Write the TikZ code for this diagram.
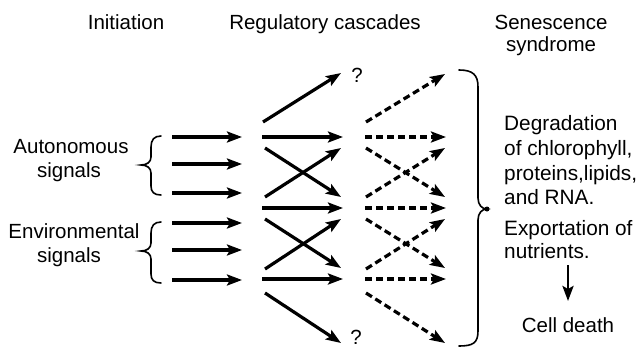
\documentclass[tikz,border=0pt]{standalone}
\usepackage{fontspec}
\setmainfont{Liberation Sans}
\usetikzlibrary{arrows.meta}
\tikzset{
  lbl/.style={font=\fontsize{20.5}{24}\selectfont, inner sep=0pt, anchor=base},
  rtxt/.style={font=\fontsize{20.8}{24}\selectfont, inner sep=0pt, anchor=base west},
  sarr/.style={line width=3.2pt, -{Stealth[length=15pt,width=11pt,inset=3pt]}},
  darr/.style={sarr, dash pattern=on 7pt off 4pt},
  brc/.style={line width=1.6pt, line cap=round},
}
\begin{document}
\begin{tikzpicture}[x=1pt,y=-1pt]
\useasboundingbox (0,0) rectangle (637,348);
% headers
\node[lbl] (h1) at (126,29) {Initiation};
\node[lbl] (h2) at (325,29) {Regulatory cascades};
\node[lbl] (h3) at (551,29) {Senescence};
\node[lbl] (h4) at (551,51) {syndrome};
% left labels
\node[lbl] (a1) at (71,153) {Autonomous};
\node[lbl] (a2) at (69,177) {signals};
\node[lbl] (e1) at (74,238) {Environmental};
\node[lbl] (e2) at (69,262) {signals};
% left braces
\draw[brc] (161,136) .. controls (154,136) and (151,140) .. (151,147) -- (151,157)
  .. controls (151,162) and (147,165) .. (141,165) .. controls (147,165) and (151,168) .. (151,173)
  -- (151,186) .. controls (151,192) and (154,195) .. (161,195);
\draw[brc] (161,222) .. controls (154,222) and (151,226) .. (151,233) -- (151,243)
  .. controls (151,248) and (147,251) .. (141,251) .. controls (147,251) and (151,254) .. (151,259)
  -- (151,274) .. controls (151,280) and (154,283) .. (161,283);
% left arrows
\foreach \i/\y in {1/137,2/164,3/193,4/223,5/250,6/280}{
  \coordinate (ls\i) at (172,\y);
  \coordinate (le\i) at (242,\y);
  \draw[sarr] (ls\i) -- (le\i);
}
% middle solid arrows
\foreach \n/\xa/\ya/\xb/\yb in {A/263/122/341/73, B/262/137/343/137, C/265/148/341/197,
  D/265/197/341/148, E/262/208/343/208, F/265/219/341/268, G/265/269/341/219,
  H/262/279/343/279, I/265/293/341/343}{
  \coordinate (s\n1) at (\xa,\ya);
  \coordinate (s\n2) at (\xb,\yb);
  \draw[sarr] (s\n1) -- (s\n2);
}
% dashed arrows
\foreach \n/\xa/\ya/\xb/\yb in {A/366/122/445/74, B/365/137/446/137, C/366/148/445/197,
  D/366/197/445/148, E/365/208/446/208, F/366/219/445/268, G/366/269/445/219,
  H/365/279/446/279, I/366/293/445/343}{
  \coordinate (d\n1) at (\xa,\ya);
  \coordinate (d\n2) at (\xb,\yb);
  \draw[darr] (d\n1) -- (d\n2);
}
% question marks
\node[lbl] (q1) at (357,82) {?};
\node[lbl] (q2) at (356,344) {?};
% right brace
\draw[brc] (459,70) .. controls (473,70) and (478,75) .. (478,87) -- (478,198)
  .. controls (478,205) and (482,209) .. (487,209) .. controls (482,209) and (478,213) .. (478,220)
  -- (478,331) .. controls (478,343) and (473,346) .. (459,346);
\fill (487,209) circle (2.5pt);
% right text
\node[rtxt] (r1) at (504,130) {Degradation};
\node[rtxt] (r2) at (504,155) {of chlorophyll,};
\node[rtxt] (r3) at (504,180) {proteins,lipids,};
\node[rtxt] (r4) at (504,204) {and RNA.};
\node[rtxt] (r5) at (504,235) {Exportation of};
\node[rtxt] (r6) at (504,258) {nutrients.};
\node[lbl] (cd) at (568,332) {Cell death};
\coordinate (ca) at (568,265);
\coordinate (cb) at (568,301);
\draw[sarr, line width=2.8pt] (ca) -- (cb);
\end{tikzpicture}
\end{document}
